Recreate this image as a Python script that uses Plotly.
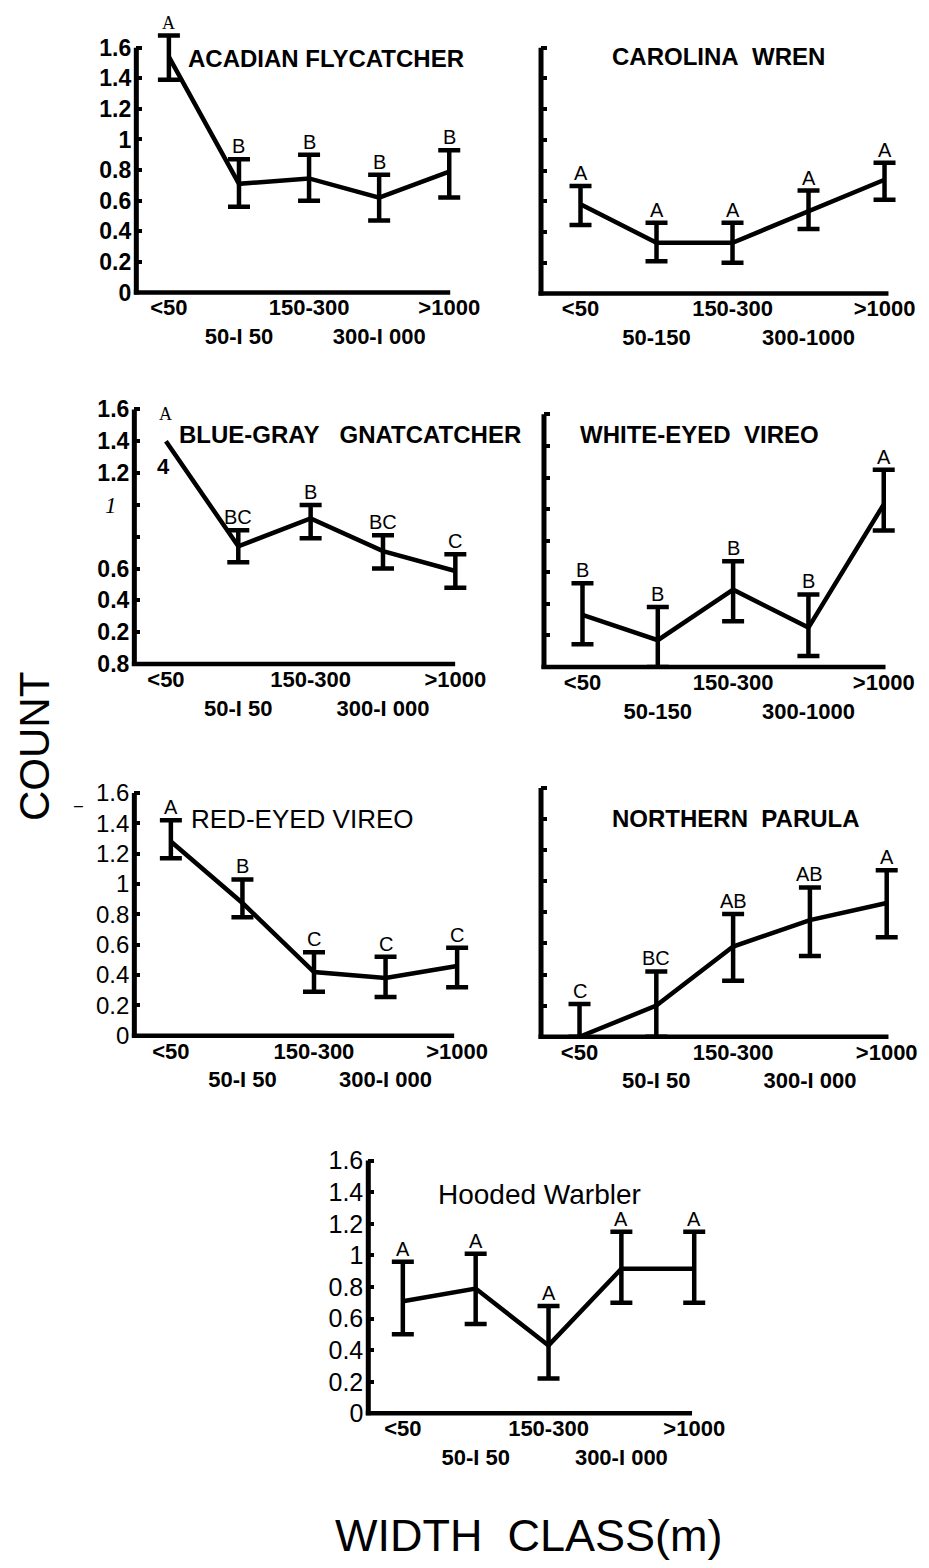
import plotly.graph_objects as go

W, H = 929, 1568
FONT = "Liberation Sans"
SERIF = "Liberation Serif"

# ---------------- data ----------------
categories = ["<50", "50-150", "150-300", "300-1000", ">1000"]
xlabels_a = ["&lt;50", "<br>50-I 50", "150-300", "<br>300-I 000", "&gt;1000"]
xlabels_b = ["&lt;50", "<br>50-150", "150-300", "<br>300-1000", "&gt;1000"]
ytick_vals = [0, 0.2, 0.4, 0.6, 0.8, 1.0, 1.2, 1.4, 1.6]
ytick_text = ["0", "0.2", "0.4", "0.6", "0.8", "1", "1.2", "1.4", "1.6"]
ytick_text_bggn = ["0.8", "0.2", "0.4", "0.6", "",
                   "<span style='font-family:Liberation Serif;font-weight:normal'><i>1</i></span>\u00a0\u00a0",
                   "1.2", "1.4", "1.6"]

acfl_mean = [1.54, 0.71, 0.745, 0.62, 0.79]
acfl_hi = [1.68, 0.87, 0.90, 0.77, 0.93]
acfl_lo = [1.39, 0.56, 0.60, 0.47, 0.62]
acfl_letters = ["A", "B", "B", "B", "B"]

carw_mean = [0.58, 0.33, 0.33, 0.535, 0.74]
carw_hi = [0.70, 0.46, 0.46, 0.67, 0.85]
carw_lo = [0.445, 0.21, 0.20, 0.42, 0.61]
carw_letters = ["A", "A", "A", "A", "A"]

bggn_mean = [1.40, 0.74, 0.915, 0.71, 0.585]
bggn_hi = [None, 0.84, 1.00, 0.81, 0.69]
bggn_lo = [None, 0.64, 0.79, 0.60, 0.48]
bggn_letters = ["A", "BC", "B", "BC", "C"]

wevi_mean = [0.33, 0.17, 0.49, 0.25, 1.03]
wevi_hi = [0.53, 0.38, 0.67, 0.46, 1.25]
wevi_lo = [0.145, 0.0, 0.29, 0.07, 0.865]
wevi_letters = ["B", "B", "B", "B", "A"]

revi_mean = [1.28, 0.875, 0.42, 0.38, 0.46]
revi_hi = [1.42, 1.03, 0.55, 0.52, 0.58]
revi_lo = [1.17, 0.78, 0.29, 0.255, 0.32]
revi_letters = ["A", "B", "C", "C", "C"]

nopa_mean = [0.0, 0.20, 0.58, 0.75, 0.86]
nopa_hi = [0.21, 0.42, 0.79, 0.96, 1.07]
nopa_lo = [0.0, 0.0, 0.36, 0.52, 0.64]
nopa_letters = ["C", "BC", "AB", "AB", "A"]

howa_mean = [0.71, 0.79, 0.43, 0.915, 0.915]
howa_hi = [0.96, 1.01, 0.68, 1.15, 1.15]
howa_lo = [0.50, 0.565, 0.22, 0.70, 0.70]
howa_letters = ["A", "A", "A", "A", "A"]

# ---------------- panel layout (pixels) ----------------
panels = [
    dict(title="ACADIAN FLYCATCHER", mean=acfl_mean, hi=acfl_hi, lo=acfl_lo, letters=acfl_letters,
         xl=130, xr=448, p0=163, dp=71, yb=287, yt=40, tx=322, ty=51, tsize=24, tbold=True,
         xlab=xlabels_a, ylab=ytick_text, ybold=True, ysize=23, serif_first=True),
    dict(title="CAROLINA\u00a0\u00a0WREN", mean=carw_mean, hi=carw_hi, lo=carw_lo, letters=carw_letters,
         xl=540, xr=892, p0=580, dp=77, yb=288, yt=40, tx=720, ty=49, tsize=24, tbold=True,
         xlab=xlabels_b, ylab=None),
    dict(title="BLUE-GRAY\u00a0\u00a0\u00a0GNATCATCHER", mean=bggn_mean, hi=bggn_hi, lo=bggn_lo, letters=bggn_letters,
         xl=128, xr=453, p0=160, dp=73.3, yb=662, yt=405, tx=346, ty=430, tsize=24, tbold=True,
         xlab=xlabels_a, ylab=ytick_text_bggn, ybold=True, ysize=23, serif_first=True),
    dict(title="WHITE-EYED\u00a0\u00a0VIREO", mean=wevi_mean, hi=wevi_hi, lo=wevi_lo, letters=wevi_letters,
         xl=543, xr=889, p0=582, dp=76.3, yb=665, yt=410, tx=701, ty=430, tsize=24, tbold=True,
         xlab=xlabels_b, ylab=None),
    dict(title="RED-EYED VIREO", mean=revi_mean, hi=revi_hi, lo=revi_lo, letters=revi_letters,
         xl=128, xr=452, p0=165, dp=72.5, yb=1037, yt=792, tx=298, ty=818, tsize=26, tbold=False,
         xlab=xlabels_a, ylab=ytick_text, ybold=False, ysize=24),
    dict(title="NORTHERN\u00a0\u00a0PARULA", mean=nopa_mean, hi=nopa_hi, lo=nopa_lo, letters=nopa_letters,
         xl=540, xr=892, p0=579, dp=77.8, yb=1038, yt=787, tx=738, ty=818, tsize=24, tbold=True,
         xlab=xlabels_a, ylab=None),
    dict(title="Hooded Warbler", mean=howa_mean, hi=howa_hi, lo=howa_lo, letters=howa_letters,
         xl=365, xr=693, p0=400, dp=73.8, yb=1418, yt=1163, tx=538, ty=1197, tsize=28, tbold=False,
         xlab=xlabels_a, ylab=ytick_text, ybold=False, ysize=25),
]

PAD_R, PAD_T = 22, 40

fig = go.Figure()
shapes, annotations = [], []
layout = dict(width=W, height=H, margin=dict(l=0, r=0, t=0, b=0),
              paper_bgcolor="white", plot_bgcolor="rgba(0,0,0,0)", showlegend=False)

for k, p in enumerate(panels, start=1):
    xa, ya = f"x{k}", f"y{k}"
    xkey = "xaxis" if k == 1 else f"xaxis{k}"
    ykey = "yaxis" if k == 1 else f"yaxis{k}"
    sy = (p["yb"] - p["yt"]) / 1.6
    xr_left = (p["xl"] - p["p0"]) / p["dp"]
    xr_right = (p["xr"] + PAD_R - p["p0"]) / p["dp"]

    layout[xkey] = dict(
        domain=[p["xl"] / W, (p["xr"] + PAD_R) / W], anchor=ya, type="category",
        range=[xr_left, xr_right], showgrid=False, zeroline=False, showline=False,
        ticks="", tickmode="array", tickvals=categories, ticktext=p["xlab"],
        tickangle=0, ticklabelstandoff=0,
        tickfont=dict(family=FONT, size=22, color="black", weight="bold"),
    )
    layout[ykey] = dict(
        domain=[1 - p["yb"] / H, 1 - (p["yt"] - PAD_T) / H], anchor=xa,
        range=[0, 1.6 + PAD_T / sy], showgrid=False, zeroline=False, showline=False,
        ticks="inside", ticklen=6, tickwidth=4, tickcolor="black",
        tickmode="array", tickvals=ytick_vals if p["ylab"] is not None else ytick_vals[1:],
        ticktext=p["ylab"] if p["ylab"] is not None else None,
        showticklabels=p["ylab"] is not None, ticklabelstandoff=4,
        tickfont=dict(family=FONT, size=p.get("ysize", 23), color="black",
                      weight="bold" if p.get("ybold") else "normal"),
    )

    # mean line
    fig.add_trace(go.Scatter(x=categories, y=p["mean"], mode="lines", xaxis=xa, yaxis=ya,
                             line=dict(color="black", width=4.5), hoverinfo="skip"))
    # error bars
    idx = [i for i in range(5) if p["hi"][i] is not None]
    fig.add_trace(go.Scatter(
        x=[categories[i] for i in idx], y=[p["mean"][i] for i in idx], mode="markers",
        xaxis=xa, yaxis=ya, marker=dict(opacity=0, size=2, color="black"), hoverinfo="skip",
        error_y=dict(type="data", symmetric=False,
                     array=[p["hi"][i] - p["mean"][i] for i in idx],
                     arrayminus=[p["mean"][i] - p["lo"][i] for i in idx],
                     color="black", thickness=4.5, width=11)))

    # axis lines
    shapes.append(dict(type="line", xref="paper", yref="paper",
                       x0=p["xl"] / W, x1=p["xl"] / W,
                       y0=1 - (p["yb"] + 2) / H, y1=1 - p["yt"] / H,
                       line=dict(color="black", width=5)))
    shapes.append(dict(type="line", xref="paper", yref="paper",
                       x0=(p["xl"] - 2.5) / W, x1=p["xr"] / W,
                       y0=1 - p["yb"] / H, y1=1 - p["yb"] / H,
                       line=dict(color="black", width=4.5)))

    # letters
    for i in range(5):
        serif = p.get("serif_first") and i == 0
        if p["hi"][i] is None:
            annotations.append(dict(x=categories[i], y=1.6, xref=xa, yref=ya, text=p["letters"][i],
                                    showarrow=False, yanchor="middle", yshift=-5,
                                    font=dict(family=SERIF, size=18, color="black")))
        else:
            annotations.append(dict(x=categories[i], y=p["hi"][i], xref=xa, yref=ya,
                                    text=p["letters"][i], showarrow=False, yanchor="bottom",
                                    yshift=0,
                                    font=dict(family=SERIF if serif else FONT,
                                              size=18 if serif else 20, color="black")))

    # panel title
    annotations.append(dict(x=p["tx"] / W, y=1 - p["ty"] / H, xref="paper", yref="paper",
                            text=p["title"], showarrow=False, xanchor="center", yanchor="middle",
                            font=dict(family=FONT, size=p["tsize"], color="black",
                                      weight="bold" if p["tbold"] else "normal")))

# scanning artefacts kept from the original figure
annotations.append(dict(x="<50", y=1.24, xref="x3", yref="y3", text="4", showarrow=False,
                        xshift=-2, font=dict(family=FONT, size=22, color="black", weight="bold")))
annotations.append(dict(x=65 / W, y=1 - 805 / H, xref="paper", yref="paper", text="\u2013",
                        showarrow=False, font=dict(family=FONT, size=16, color="black")))

# global axis titles
annotations.append(dict(x=27 / W, y=1 - 745 / H, xref="paper", yref="paper", text="COUNT",
                        textangle=-90, showarrow=False, xanchor="center", yanchor="middle",
                        font=dict(family=FONT, size=42, color="black")))
annotations.append(dict(x=528 / W, y=1 - 1541 / H, xref="paper", yref="paper",
                        text="WIDTH\u00a0\u00a0CLASS(m)", showarrow=False,
                        xanchor="center", yanchor="middle",
                        font=dict(family=FONT, size=45, color="black")))

layout["shapes"] = shapes
layout["annotations"] = annotations
fig.update_layout(**layout)
fig.write_html("out.html")
